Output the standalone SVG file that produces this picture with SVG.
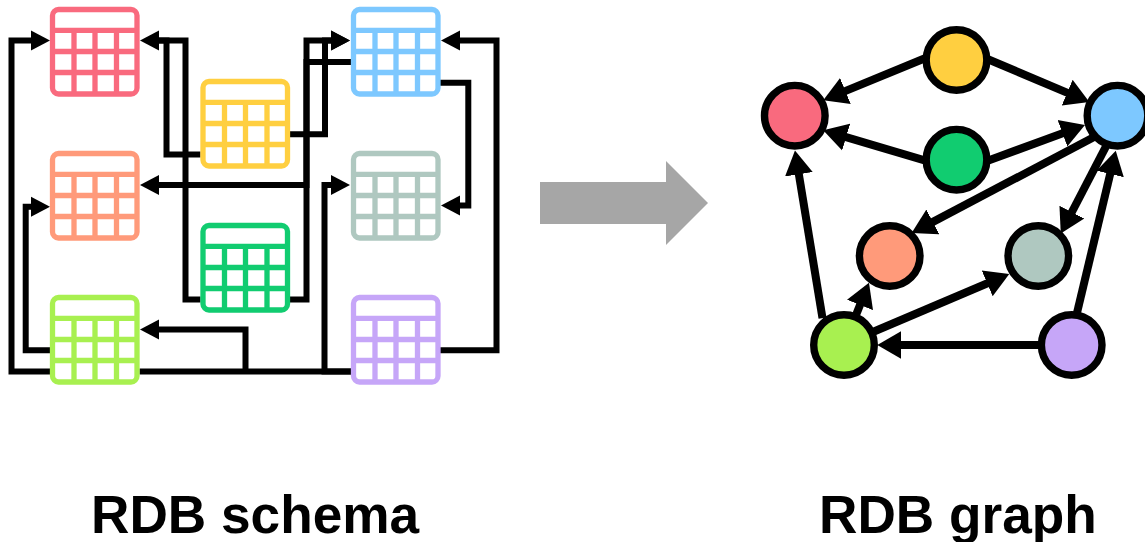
<svg xmlns="http://www.w3.org/2000/svg" width="1145" height="542" viewBox="0 0 1145 542">
<style>
.wire{fill:none;stroke:#000;stroke-width:6;stroke-linejoin:miter;marker-end:url(#ah)}
.plain{fill:none;stroke:#000;stroke-width:6;stroke-linejoin:miter}
.edge{fill:none;stroke:#000;stroke-width:8;marker-end:url(#gh)}
.tbl{fill:#fff;stroke-width:5.3}
.nd{stroke:#000;stroke-width:7.4}
.lbl{font-family:"Liberation Sans",Arial,sans-serif;font-weight:700;font-size:53.2px;fill:#000}
</style>
<defs>
<marker id="ah" markerUnits="userSpaceOnUse" markerWidth="22" markerHeight="22" viewBox="0 0 22 22" refX="1" refY="11" orient="auto"><path d="M0,1L19,11L0,21Z" fill="#000"/></marker>
<marker id="gh" markerUnits="userSpaceOnUse" markerWidth="28" markerHeight="30" viewBox="0 0 28 30" refX="1" refY="15" orient="auto"><path d="M0,1L24,15L0,29Z" fill="#000"/></marker>
<g id="table"><rect x="2.5" y="2.5" width="84.5" height="84.5" rx="6"/><path d="M2.5,23.3H87M2.5,44.5H87M2.5,65.5H87M24,23.3V87M45,23.3V87M66.5,23.3V87" fill="none"/></g>
</defs>
<g id="schema-connectors">
<path class="wire" d="M50,371.5H11.5V40.5H32"/>
<path class="plain" d="M200.5,154.5H166.5V40.5H157"/>
<path class="wire" d="M200.5,299.5H185.5V40.5H158"/>
<path class="wire" d="M351,62H306.5V185H158"/>
<path class="wire" d="M290,299.5H306.5V40.5H332"/>
<path class="wire" d="M290,134.3H325V40.5H332"/>
<path class="wire" d="M351,371.5H324.5V185H332"/>
<path class="plain" d="M139.5,371.5H351"/>
<path class="wire" d="M245.5,371.5V329.5H158"/>
<path class="wire" d="M440,350.3H496.5V40.5H459"/>
<path class="wire" d="M440,82.7H468.3V205.5H459"/>
<path class="wire" d="M50,350.3H25.7V206.7H32"/>
</g>
<g id="table-red" class="tbl" stroke="#F96A7E"><use href="#table" x="50" y="7"/></g>
<g id="table-orange" class="tbl" stroke="#FF9A7A"><use href="#table" x="50" y="151"/></g>
<g id="table-lime" class="tbl" stroke="#A8F050"><use href="#table" x="50" y="295"/></g>
<g id="table-yellow" class="tbl" stroke="#FFCF40"><use href="#table" x="200.5" y="79"/></g>
<g id="table-green" class="tbl" stroke="#11CC70"><use href="#table" x="200.5" y="223"/></g>
<g id="table-blue" class="tbl" stroke="#7DC8FF"><use href="#table" x="351" y="7"/></g>
<g id="table-gray" class="tbl" stroke="#AFC8C0"><use href="#table" x="351" y="151"/></g>
<g id="table-purple" class="tbl" stroke="#C6A6F8"><use href="#table" x="351" y="295"/></g>
<polygon id="big-arrow" points="540,182 666,182 666,161 708,203 666,245 666,224 540,224" fill="#A6A6A6"/>
<g id="graph-connectors">
<path class="edge" d="M928,57L844.5,91.4"/>
<path class="edge" d="M985,58L1068.1,93.1"/>
<path class="edge" d="M928,161.4L845.2,136.8"/>
<path class="edge" d="M985,161.8L1063.4,132.9"/>
<path class="edge" d="M1096,136L932,222.4"/>
<path class="edge" d="M1107.3,143.9L1071.4,213"/>
<path class="edge" d="M1076.1,316.6L1110.4,173"/>
<path class="edge" d="M822.5,318.2L798.7,173.3"/>
<path class="edge" d="M849.6,330.9L860.4,304"/>
<path class="edge" d="M868.7,333.7L988.1,283"/>
<path class="edge" d="M1043,345H900.3"/>
</g>
<g id="node-yellow"><circle class="nd" cx="956.5" cy="60" r="30.3" fill="#FFCF40"/></g>
<g id="node-red"><circle class="nd" cx="794.8" cy="115.7" r="30.3" fill="#F96A7E"/></g>
<g id="node-green"><circle class="nd" cx="956.5" cy="159.7" r="30.3" fill="#11CC70"/></g>
<g id="node-blue"><circle class="nd" cx="1117.5" cy="115.7" r="30.3" fill="#7DC8FF"/></g>
<g id="node-orange"><circle class="nd" cx="889.7" cy="256" r="30.3" fill="#FF9A7A"/></g>
<g id="node-gray"><circle class="nd" cx="1038.3" cy="256" r="30.3" fill="#AFC8C0"/></g>
<g id="node-lime"><circle class="nd" cx="844" cy="345" r="30.3" fill="#A8F050"/></g>
<g id="node-purple"><circle class="nd" cx="1071.7" cy="345" r="30.3" fill="#C6A6F8"/></g>
<text class="lbl" x="91" y="533">RDB schema</text>
<text class="lbl" x="819" y="533">RDB graph</text>
</svg>
